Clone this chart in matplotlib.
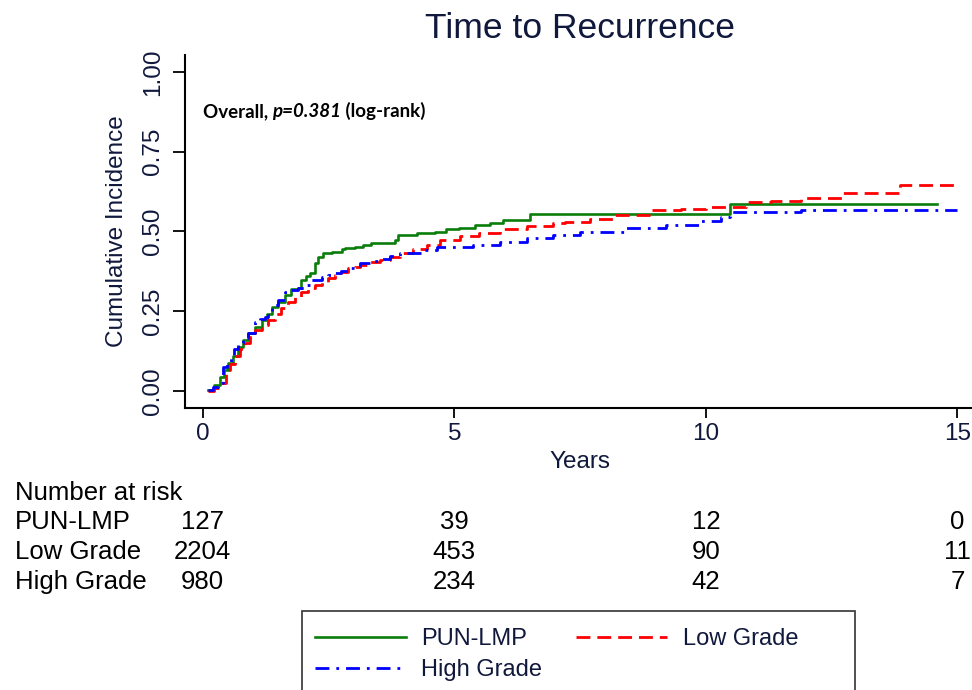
import matplotlib.pyplot as plt
from matplotlib.patches import Rectangle
from matplotlib.transforms import blended_transform_factory

plt.rcParams['font.family'] = ['Liberation Sans', 'DejaVu Sans']

# cumulative incidence curves (years, incidence)
pun_t = [0.1, 0.22, 0.34, 0.42, 0.5, 0.6, 0.7, 0.8, 0.9, 1.03, 1.17, 1.27, 1.37, 1.5, 1.63, 1.76, 1.9,
         1.96, 2.05, 2.13, 2.23, 2.29, 2.39, 2.56, 2.76, 2.82, 3.02, 3.19, 3.35, 3.82, 3.88, 4.25, 4.61,
         4.84, 5.1, 5.41, 5.7, 5.97, 6.5, 10.48, 14.59]
pun_y = [0.003, 0.02, 0.045, 0.065, 0.087, 0.11, 0.139, 0.16, 0.181, 0.20, 0.223, 0.24, 0.264, 0.28,
         0.30, 0.32, 0.322, 0.348, 0.36, 0.369, 0.40, 0.42, 0.432, 0.435, 0.444, 0.447, 0.450, 0.458,
         0.465, 0.473, 0.489, 0.494, 0.499, 0.507, 0.512, 0.52, 0.527, 0.536, 0.554, 0.585, 0.585]

low_t = [0.1, 0.22, 0.34, 0.47, 0.55, 0.64, 0.74, 0.84, 0.93, 1.03, 1.17, 1.3, 1.43, 1.56, 1.7, 1.83,
         1.96, 2.1, 2.23, 2.36, 2.49, 2.62, 2.75, 2.89, 3.02, 3.12, 3.32, 3.52, 3.72, 3.92, 4.18, 4.45,
         4.71, 5.11, 5.5, 5.9, 6.44, 6.96, 7.2, 7.7, 8.2, 8.9, 9.5, 10.0, 10.8, 11.3, 11.9, 12.7, 13.86,
         15.0]
low_y = [0.0, 0.01, 0.024, 0.066, 0.085, 0.108, 0.13, 0.15, 0.17, 0.191, 0.207, 0.223, 0.241, 0.259,
         0.278, 0.296, 0.309, 0.322, 0.333, 0.343, 0.353, 0.364, 0.374, 0.385, 0.39, 0.395, 0.403, 0.41,
         0.421, 0.432, 0.444, 0.458, 0.473, 0.486, 0.494, 0.507, 0.517, 0.528, 0.53, 0.54, 0.552, 0.567,
         0.572, 0.578, 0.592, 0.597, 0.604, 0.62, 0.646, 0.646]

high_t = [0.1, 0.2, 0.3, 0.4, 0.48, 0.57, 0.63, 0.7, 0.8, 0.9, 1.03, 1.13, 1.23, 1.3, 1.37, 1.5, 1.63,
          1.76, 1.9, 2.03, 2.16, 2.36, 2.49, 2.62, 2.75, 2.89, 3.02, 3.12, 3.32, 3.52, 3.72, 3.92, 4.38,
          4.65, 5.37, 5.9, 6.44, 6.96, 7.5, 8.4, 9.2, 9.9, 10.3, 10.48, 11.9, 15.0]
high_y = [0.003, 0.012, 0.024, 0.076, 0.09, 0.108, 0.13, 0.15, 0.165, 0.181, 0.217, 0.225, 0.233, 0.25,
          0.27, 0.285, 0.311, 0.318, 0.322, 0.332, 0.348, 0.358, 0.364, 0.369, 0.377, 0.385, 0.39, 0.40,
          0.406, 0.413, 0.422, 0.432, 0.442, 0.45, 0.458, 0.468, 0.479, 0.489, 0.497, 0.51, 0.52, 0.534,
          0.546, 0.562, 0.567, 0.567]

# number at risk table
risk_years = [0, 5, 10, 15]
risk_groups = ['PUN-LMP', 'Low Grade', 'High Grade']
risk_counts = [[127, 39, 12, 0],
               [2204, 453, 90, 11],
               [980, 234, 42, 7]]

navy = '#10183c'

fig = plt.figure(figsize=(9.72, 6.9), dpi=100)
ax = fig.add_axes([0.190, 0.409, 0.810, 0.511])

l_pun, = ax.plot(pun_t, pun_y, drawstyle='steps-post', color='#0a7d0a', lw=1.9, label='PUN-LMP')
l_low, = ax.plot(low_t, low_y, drawstyle='steps-post', color='#ff0000', lw=2.0,
                 dashes=(5, 2.5), label='Low Grade')
l_high, = ax.plot(high_t, high_y, drawstyle='steps-post', color='#0000ff', lw=2.0,
                  dashes=(5, 2.5, 1, 2.5), label='High Grade')

ax.set_xlim(-0.36, 15.29)
ax.set_ylim(-0.053, 1.053)
ax.set_xticks([0, 5, 10, 15])
ax.set_yticks([0, 0.25, 0.5, 0.75, 1.0])
ax.set_yticklabels(['0.00', '0.25', '0.50', '0.75', '1.00'], rotation=90, va='center')
ax.tick_params(axis='both', labelsize=17.5, colors='black', labelcolor=navy, width=1.3)
ax.tick_params(axis='y', length=9, pad=6)
ax.tick_params(axis='x', length=7, pad=4)
for s in ['top', 'right']:
    ax.spines[s].set_visible(False)
for s in ['left', 'bottom']:
    ax.spines[s].set_linewidth(1.5)

ax.set_ylabel('Cumulative Incidence', fontsize=17.5, color=navy, labelpad=10)
fig.text(580 / 972, 1 - 462 / 690, 'Years', fontsize=17.5, color=navy, ha='center', va='center')
fig.text(580 / 972, 1 - 28 / 690, 'Time to Recurrence', fontsize=25.5, color=navy, ha='center', va='center')

# p-value note
note_font = dict(fontsize=13.5, fontweight='bold', family=['Lato', 'DejaVu Sans'])
t1 = ax.text(0.0, 0.875, 'Overall, ', transform=ax.transData, va='center', **note_font)
t2 = ax.annotate('p=0.381', xy=(1, 0), xycoords=t1, va='bottom', fontstyle='italic', **note_font)
ax.annotate(' (log-rank)', xy=(1, 0), xycoords=t2, va='bottom', **note_font)

# number at risk
tr = blended_transform_factory(ax.transData, fig.transFigure)
fig.text(15 / 972, 1 - 493 / 690, 'Number at risk', fontsize=18.5, color='black', va='center')
row_y = [522, 552, 582]
for name, counts, yy in zip(risk_groups, risk_counts, row_y):
    fig.text(15 / 972, 1 - yy / 690, name, fontsize=18.5, va='center')
    for yr, c in zip(risk_years, counts):
        ax.text(yr, 1 - yy / 690, str(c), transform=tr, fontsize=18.5, ha='center', va='center',
                clip_on=False)

# legend with a Stata-like wide box
fig.patches.append(Rectangle((302 / 972, -0.05), (855 - 302) / 972, 0.05 + 1 - 611 / 690,
                             transform=fig.transFigure, facecolor='white', edgecolor='#333333',
                             lw=1.2))
leg = fig.legend([l_pun, l_high, l_low], ['PUN-LMP', 'High Grade', 'Low Grade'], ncol=2,
                 loc='upper left', bbox_to_anchor=(303 / 972, 1 - 616 / 690), fontsize=17,
                 handlelength=3.85, columnspacing=1.45, labelspacing=0.4, borderpad=0,
                 frameon=False, handletextpad=0.65)
for t in leg.get_texts():
    t.set_color(navy)

plt.savefig('out.png', dpi=100)
